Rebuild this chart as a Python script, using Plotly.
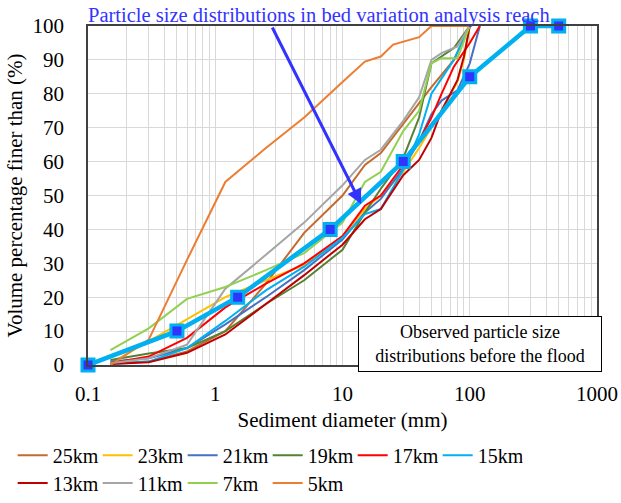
import plotly.graph_objects as go
import math

# ---- data (sediment diameter in mm, percent finer) ----
names = ["25km", "23km", "21km", "19km", "17km", "15km", "13km", "11km", "7km", "5km"]
colors = ["#C46A2E", "#FFC000", "#4472C4", "#548235", "#FF0000", "#00B0F0",
          "#C00000", "#A5A5A5", "#92D050", "#ED7D31"]

d_25km = [0.15, 0.3, 0.6, 1.2, 2.5, 5, 10, 15, 20, 30, 40, 50, 75, 100]
p_25km = [0.5, 1, 4, 10, 24, 39, 50, 59, 62.5, 71, 77, 82, 90, 100]

d_23km = [0.15, 0.3, 0.6, 1.2, 2.5, 5, 10, 15, 20, 30, 40, 50, 60, 80, 90, 100]
p_23km = [0.5, 7, 13.5, 20, 25, 29.5, 38, 46, 50, 57, 64, 70, 75, 83.5, 90, 100]

d_21km = [0.15, 0.3, 0.6, 1.2, 2.5, 5, 10, 15, 20, 30, 40, 50, 60, 80, 100, 120]
p_21km = [1, 2, 5, 12, 20, 28, 37, 45, 49, 58, 66, 74, 78, 81, 89, 100]

d_19km = [0.15, 0.3, 0.6, 1.2, 2.5, 5, 10, 15, 20, 30, 40, 50, 75, 100]
p_19km = [1.5, 3.4, 5, 10, 18, 25, 34, 45, 52, 61, 73, 89, 93.5, 100]

d_17km = [0.15, 0.3, 0.6, 1.2, 2.5, 5, 10, 15, 20, 30, 40, 50, 60, 75, 100, 120]
p_17km = [0.5, 2.5, 8, 17, 24, 30, 38, 47, 50, 59, 66, 73, 80, 88, 95, 100]

d_15km = [0.15, 0.3, 0.6, 1.2, 2.5, 5, 10, 15, 20, 30, 40, 50, 75, 100]
p_15km = [0.3, 1, 5, 13, 22, 29, 37.5, 44.5, 46, 57.5, 68, 80, 90, 100]

d_13km = [0.15, 0.3, 0.6, 1.2, 2.5, 5, 10, 15, 20, 30, 40, 50, 60, 80, 90, 100]
p_13km = [0.3, 0.8, 3.6, 9, 18, 26.5, 35.5, 43, 46, 56, 60.5, 67, 75, 84, 91, 100]

d_11km = [0.15, 0.3, 0.6, 1.2, 2.5, 5, 10, 15, 20, 30, 40, 50, 60, 80, 100]
p_11km = [0.5, 2, 6, 22.5, 32.5, 42, 53, 60.5, 63.5, 72, 79, 90, 92, 94, 100]

d_7km = [0.15, 0.3, 0.6, 1.2, 2.5, 5, 10, 15, 20, 30, 40, 50, 60, 80, 100]
p_7km = [4.4, 10.8, 19.5, 23, 28, 33, 42, 54, 57, 69, 75, 89, 90.5, 90.5, 100]

d_5km = [0.15, 0.3, 0.6, 1.2, 2.5, 5, 10, 15, 20, 25, 40, 50, 100]
p_5km = [0, 7.5, 31, 54, 64, 73, 83.5, 89.5, 91, 94.5, 96.7, 100, 100]

d_obs = [0.1, 0.5, 1.5, 8, 30, 100, 300, 500]
p_obs = [0, 10, 20, 40, 60, 85, 100, 100]

x_tick_vals = [0.1, 1, 10, 100, 1000]
x_tick_text = ["0.1", "1", "10", "100", "1000"]
y_tick_vals = list(range(0, 101, 10))

series_d = [d_25km, d_23km, d_21km, d_19km, d_17km, d_15km, d_13km, d_11km, d_7km, d_5km]
series_p = [p_25km, p_23km, p_21km, p_19km, p_17km, p_15km, p_13km, p_11km, p_7km, p_5km]

FONT = "Liberation Serif"

fig = go.Figure()
for i, (n, c, xd, yp) in enumerate(zip(names, colors, series_d, series_p)):
    fig.add_trace(go.Scatter(
        x=xd, y=yp, mode="lines", name=n,
        line=dict(color=c, width=2),
        legend="legend" if i < 6 else "legend2",
        cliponaxis=False,
    ))

fig.add_trace(go.Scatter(
    x=d_obs, y=p_obs, mode="lines+markers", showlegend=False,
    line=dict(color="#00B0F0", width=4.5),
    marker=dict(symbol="square", size=12, color="#3333FF",
                line=dict(color="#00B0F0", width=3)),
    cliponaxis=False,
))

minor_vals = [m * 10 ** e for e in range(-1, 3) for m in range(2, 10)]

fig.update_xaxes(
    type="log", range=[-1, 3],
    tickvals=x_tick_vals, ticktext=x_tick_text,
    showgrid=True, gridcolor="#D9D9D9", gridwidth=1,
    minor=dict(tickvals=minor_vals, showgrid=True, gridcolor="#D9D9D9", gridwidth=1),
    showline=True, linecolor="#404040", linewidth=1.5, mirror=True,
    ticks="", ticklabelstandoff=9,
    tickfont=dict(family=FONT, size=21, color="black"),
    title=dict(text="Sediment diameter (mm)", font=dict(family=FONT, size=21, color="black"),
               standoff=7),
    zeroline=False,
)
fig.update_yaxes(
    range=[0, 100], tickvals=y_tick_vals,
    showgrid=True, gridcolor="#D9D9D9", gridwidth=1,
    showline=True, linecolor="#404040", linewidth=1.5, mirror=True,
    ticks="", ticklabelstandoff=18,
    tickfont=dict(family=FONT, size=21, color="black"),
    title=dict(text="Volume percentage finer than (%)", font=dict(family=FONT, size=21, color="black"),
               standoff=4),
    zeroline=False,
)

# arrow
fig.add_annotation(
    x=math.log10(14), y=47.5, ax=math.log10(2.77), ay=100,
    xref="x", yref="y", axref="x", ayref="y",
    text="", showarrow=True, arrowhead=2, arrowsize=1, arrowwidth=3,
    arrowcolor="#3333FF",
)
# title
fig.add_annotation(
    x=-0.004, y=1.0, xref="paper", yref="paper", xanchor="left", yanchor="bottom",
    text="Particle size distributions in bed variation analysis reach",
    showarrow=False, font=dict(family=FONT, size=20.5, color="#3333FF"), yshift=-3,
)
# observed box
fig.add_annotation(
    x=0.770, y=0.062, xref="paper", yref="paper", xanchor="center", yanchor="middle",
    text="Observed particle size<br>distributions before the flood",
    showarrow=False, font=dict(family=FONT, size=18, color="black"),
    bgcolor="white", bordercolor="black", borderwidth=1, borderpad=3,
    width=236, height=48,
)

fig.update_layout(
    width=621, height=503,
    margin=dict(l=88, r=24, t=26, b=138, autoexpand=False),
    paper_bgcolor="white", plot_bgcolor="white",
    legend=dict(orientation="h", x=-0.148, xanchor="left", y=-0.266, yanchor="middle",
                font=dict(family=FONT, size=20, color="black"), entrywidth=40,
                itemwidth=30, tracegroupgap=0),
    legend2=dict(orientation="h", x=-0.148, xanchor="left", y=-0.348, yanchor="middle",
                 font=dict(family=FONT, size=20, color="black"), entrywidth=40,
                 itemwidth=30, tracegroupgap=0),
)

fig.write_html("out.html")
